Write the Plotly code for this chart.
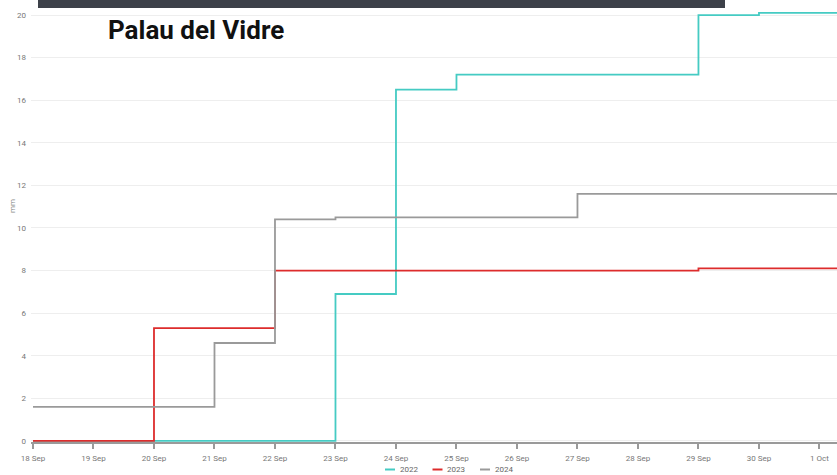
import plotly.graph_objects as go
import pandas as pd

dates = ["2024-09-18", "2024-09-19", "2024-09-20", "2024-09-21", "2024-09-22",
         "2024-09-23", "2024-09-24", "2024-09-25", "2024-09-26", "2024-09-27",
         "2024-09-28", "2024-09-29", "2024-09-30", "2024-10-01", "2024-10-02"]
rain_2022 = [0, 0, 0, 0, 0, 6.9, 16.5, 17.2, 17.2, 17.2, 17.2, 20.0, 20.1, 20.1, 20.1]
rain_2023 = [0, 0, 5.3, 5.3, 8.0, 8.0, 8.0, 8.0, 8.0, 8.0, 8.0, 8.1, 8.1, 8.1, 8.1]
rain_2024 = [1.6, 1.6, 1.6, 4.6, 10.4, 10.5, 10.5, 10.5, 10.5, 11.6, 11.6, 11.6, 11.6, 11.6, 11.6]
series_names = ["2022", "2023", "2024"]
series_colors = ["#45cbc3", "#dd2c2c", "#9a9a9a"]
title_text = "Palau del Vidre"
y_label = "mm"
y_ticks = [0, 2, 4, 6, 8, 10, 12, 14, 16, 18, 20]

# plot-area geometry in pixels (for placing layout decorations)
L, R, T, B = 31, 837, 8, 442
W, H = R - L, B - T


def px_x(p):
    return (p - L) / W


def px_y(p):
    return (B - p) / H


fig = go.Figure()
for name, vals, col in zip(series_names, [rain_2022, rain_2023, rain_2024], series_colors):
    fig.add_trace(go.Scatter(x=dates, y=vals, name=name, mode="lines", showlegend=False,
                             line=dict(color=col, width=1.8, shape="hv")))

start = pd.Timestamp(dates[0])
x0 = start - pd.Timedelta(days=0.033)
x1 = start + pd.Timedelta(days=13.29)

fig.update_layout(
    width=837, height=475,
    margin=dict(l=L, r=837 - R, t=T, b=475 - B),
    paper_bgcolor="white", plot_bgcolor="white",
    font=dict(family="Roboto, Arial, sans-serif", size=8, color="#777"),
    showlegend=False,
    xaxis=dict(type="date", range=[x0, x1], tickformat="%-d %b", dtick=86400000,
               tick0=dates[0],
               showgrid=False, showline=True, linecolor="#9a9a9a", linewidth=1.5,
               ticks="outside", ticklen=5, tickcolor="#9a9a9a", tickwidth=1.5,
               ticklabelstandoff=3,
               tickfont=dict(size=8, color="#777")),
    yaxis=dict(range=[-0.05, 20.33], tickvals=y_ticks, showgrid=True, gridcolor="#eeeeee",
               gridwidth=1, zeroline=False, showline=False, ticks="",
               tickfont=dict(size=8, color="#777"), ticklabelstandoff=4),
)

# dark header bar
fig.add_shape(type="rect", xref="paper", yref="paper",
              x0=px_x(38), x1=px_x(725), y0=px_y(8), y1=px_y(-1),
              fillcolor="#3d4149", line=dict(width=0), layer="above")

fig.add_annotation(text="<b>" + title_text + "</b>", xref="paper", yref="paper",
                   x=px_x(106), y=px_y(29.5), xanchor="left", yanchor="middle",
                   showarrow=False, font=dict(family="Roboto, Arial, sans-serif", size=26, color="#111"))

fig.add_annotation(text=y_label, xref="paper", yref="paper",
                   x=px_x(12), y=px_y(206), xanchor="center", yanchor="middle",
                   textangle=-90, showarrow=False, font=dict(size=8, color="#888"))

# legend (bottom centre): short line sample + label per series
for i, (name, col) in enumerate(zip(series_names, series_colors)):
    lx = 385 + i * 47.5
    fig.add_shape(type="line", xref="paper", yref="paper",
                  x0=px_x(lx), x1=px_x(lx + 10), y0=px_y(469.5), y1=px_y(469.5),
                  line=dict(color=col, width=2))
    fig.add_annotation(text=name, xref="paper", yref="paper",
                       x=px_x(lx + 12.5), y=px_y(469.5), xanchor="left", yanchor="middle",
                       showarrow=False, font=dict(size=8, color="#666"))

fig.write_html("out.html", config={"displayModeBar": False},
               post_script="document.body.style.margin='0';")
